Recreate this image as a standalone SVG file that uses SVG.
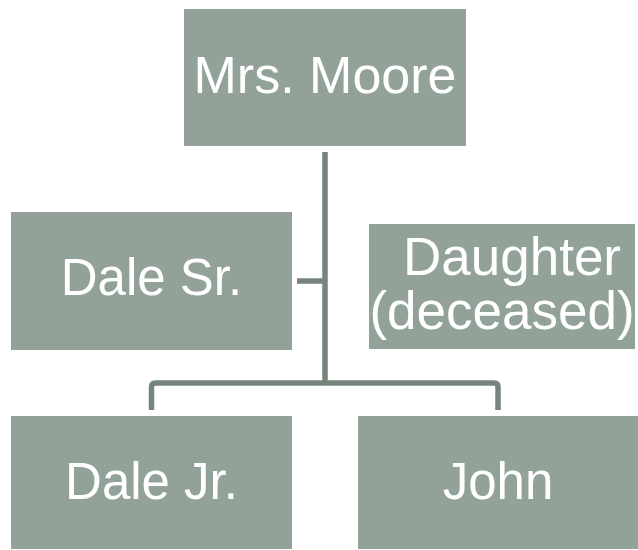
<svg xmlns="http://www.w3.org/2000/svg" width="638" height="550" viewBox="0 0 638 550">
<style>
.box{fill:#93a298;}
.t{font-family:"Liberation Sans",Arial,sans-serif;font-size:51px;fill:#ffffff;text-anchor:middle;}
.c{fill:none;stroke:#76857c;stroke-width:5.5;stroke-linejoin:round;}
</style>
<rect width="638" height="550" fill="#ffffff"/>
<g id="connectors">
<path class="c" d="M325 152 V383"/>
<path class="c" d="M297 281 H325"/>
<path class="c" d="M151.5 410 V387 Q151.5 383 155.5 383 H494 Q498 383 498 387 V410"/>
</g>
<g id="mrs-moore">
<rect class="box" x="184" y="9" width="282" height="137"/>
<text class="t" x="325" y="93" style="font-size:52px">Mrs. Moore</text>
</g>
<g id="dale-sr">
<rect class="box" x="11" y="212" width="281" height="138"/>
<text class="t" x="151.5" y="295">Dale Sr.</text>
</g>
<g id="daughter">
<rect class="box" x="369" y="224" width="266" height="125"/>
<text class="t" x="512" y="275" style="font-size:53px">Daughter</text>
<text class="t" x="502" y="329" style="font-size:53px">(deceased)</text>
</g>
<g id="dale-jr">
<rect class="box" x="11" y="416" width="281" height="133"/>
<text class="t" x="151.5" y="499">Dale Jr.</text>
</g>
<g id="john">
<rect class="box" x="358" y="416" width="280" height="133"/>
<text class="t" x="498" y="499">John</text>
</g>
</svg>
